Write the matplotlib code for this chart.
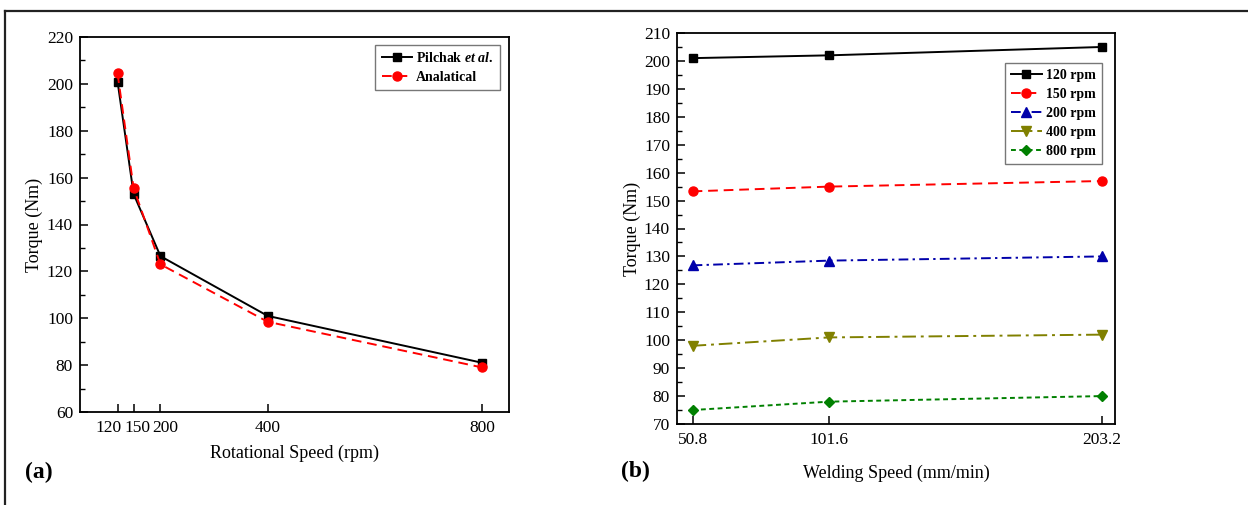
import matplotlib
matplotlib.use("Agg")

import matplotlib.pyplot as plt
from matplotlib.lines import Line2D
from matplotlib.ticker import MultipleLocator
from matplotlib.transforms import ScaledTranslation

# -----------------------------
# DANE
# -----------------------------

rot_speed = [120, 150, 200, 400, 800]
torque_pilchak = [201, 153, 126.5, 101, 81]
torque_analytical = [204.5, 155.5, 123, 98.5, 79]

weld_speed = [50.8, 101.6, 203.2]
weld_labels = ["50.8", "101.6", "203.2"]
rpm_names = ["120 rpm", "150 rpm", "200 rpm", "400 rpm", "800 rpm"]
torque_120 = [201, 202, 205]
torque_150 = [153.3, 155, 157]
torque_200 = [126.8, 128.5, 130]
torque_400 = [98, 101, 102]
torque_800 = [75, 78, 80]

plt.rcParams["font.family"] = ["Liberation Serif", "DejaVu Serif"]
plt.rcParams["mathtext.fontset"] = "custom"
plt.rcParams["mathtext.it"] = "Liberation Serif:bold:italic"
plt.rcParams["mathtext.rm"] = "Liberation Serif:bold"

TICK_FS = 12.5
LABEL_FS = 13
LEG_FS = 10
LW = 1.4

fig = plt.figure(figsize=(12.48, 5.05), dpi=100, facecolor="white")

# ramka wokół całej figury (góra i lewa strona)
fig.add_artist(Line2D([5 / 1248, 1.0], [1 - 11 / 505, 1 - 11 / 505],
                      color="#222222", linewidth=1.6, transform=fig.transFigure))
fig.add_artist(Line2D([5 / 1248, 5 / 1248], [0.0, 1 - 11 / 505],
                      color="#222222", linewidth=1.6, transform=fig.transFigure))


def style_axes(ax):
    for sp in ax.spines.values():
        sp.set_linewidth(1.3)
    ax.tick_params(direction="in", which="both", labelsize=TICK_FS,
                   top=False, right=False)
    ax.tick_params(which="major", length=6, width=1.1)
    ax.tick_params(which="minor", length=3.5, width=1.0)
    ax.tick_params(axis="x", pad=6)
    ax.tick_params(axis="y", pad=5)


def make_legend(ax, anchor):
    leg = ax.legend(loc="upper right", prop={"weight": "bold", "size": LEG_FS},
                    frameon=True, fancybox=False, edgecolor="#555555",
                    handlelength=2.2, borderpad=0.45, labelspacing=0.42,
                    handletextpad=0.3, borderaxespad=0,
                    bbox_to_anchor=anchor)
    leg.get_frame().set_linewidth(1.0)
    return leg


# -----------------------------
# PANEL (a)
# -----------------------------

ax1 = fig.add_axes([80 / 1248, 1 - 412 / 505, 429 / 1248, 375 / 505])

ax1.plot(rot_speed, torque_pilchak, color="black", linewidth=LW,
         marker="s", markersize=5.5, label=r"Pilchak $et\ al.$")
ax1.plot(rot_speed, torque_analytical, color="#ff0000", linewidth=LW,
         linestyle=(0, (5, 3)), marker="o", markersize=6.5,
         label="Analatical")

ax1.set_xlim(50, 850)
ax1.set_ylim(60, 220)
ax1.set_xticks(rot_speed)
ax1.set_xticklabels([str(v) for v in rot_speed])
ax1.yaxis.set_major_locator(MultipleLocator(20))
ax1.yaxis.set_minor_locator(MultipleLocator(10))
style_axes(ax1)

# rozsunięcie ściśniętych etykiet 120 / 150 / 200
shifts = [-6.2, 2.4, 3.2, 0, 0]
for lab, dx in zip(ax1.get_xticklabels(), shifts):
    lab.set_transform(lab.get_transform() + ScaledTranslation(dx / 72, 0, fig.dpi_scale_trans))

ax1.set_xlabel("Rotational Speed (rpm)", fontsize=LABEL_FS, labelpad=6)
ax1.set_ylabel("Torque (Nm)", fontsize=LABEL_FS, labelpad=3)

make_legend(ax1, (0.979, 0.979))

fig.text(39 / 1248, 1 - 472 / 505, "(a)", fontsize=17, fontweight="bold",
         ha="center", va="center")

# -----------------------------
# PANEL (b)
# -----------------------------

ax2 = fig.add_axes([677 / 1248, 1 - 424 / 505, 438 / 1248, 391 / 505])

series = [
    (torque_120, "black", "-", "s", 5.5),
    (torque_150, "#ff0000", (0, (5, 3)), "o", 6.5),
    (torque_200, "#0000aa", (0, (5, 2.2, 1.2, 2.2)), "^", 6.5),
    (torque_400, "#808000", (0, (7, 2.5, 1.5, 2.5)), "v", 6.5),
    (torque_800, "#008000", (0, (2.5, 1.8)), "D", 5.5),
]

for (vals, col, ls, mk, ms), name in zip(series, rpm_names):
    ax2.plot(weld_speed, vals, color=col, linewidth=LW, linestyle=ls,
             marker=mk, markersize=ms, label=name)

ax2.set_xlim(45, 208)
ax2.set_ylim(70, 210)
ax2.set_xticks(weld_speed)
ax2.set_xticklabels(weld_labels)
ax2.yaxis.set_major_locator(MultipleLocator(10))
ax2.yaxis.set_minor_locator(MultipleLocator(5))
style_axes(ax2)

ax2.set_xlabel("Welding Speed (mm/min)", fontsize=LABEL_FS, labelpad=12)
ax2.set_ylabel("Torque (Nm)", fontsize=LABEL_FS, labelpad=2)

make_legend(ax2, (0.970, 0.923))

fig.text(635 / 1248, 1 - 471 / 505, "(b)", fontsize=17, fontweight="bold",
         ha="center", va="center")

fig.savefig("out.png", dpi=100, facecolor="white")
plt.close(fig)
